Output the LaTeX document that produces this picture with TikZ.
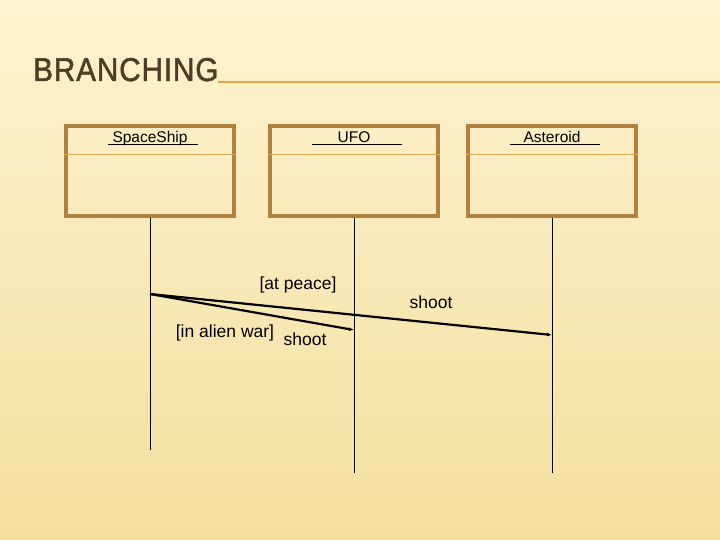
\documentclass[tikz,border=0pt]{standalone}
\usepackage{fontspec}
\setmainfont{Liberation Sans}
\newfontfamily\titlefont[FakeBold=1.5,LetterSpace=3]{Liberation Sans}
\usetikzlibrary{arrows.meta}
\definecolor{paper}{RGB}{253,243,208}
\definecolor{paperdark}{RGB}{244,223,158}
\definecolor{boxline}{RGB}{178,130,60}
\definecolor{sepline}{RGB}{214,170,80}
\definecolor{titlerule}{RGB}{226,164,70}
\definecolor{titletext}{RGB}{80,60,36}
\tikzset{
  classbox/.style={draw=boxline, line width=3.2pt},
  lifeline/.style={draw=black, line width=0.8pt},
  msg/.style={draw=black, line width=2.2pt, -{Latex[length=5pt,width=4pt]}},
  msgtext/.style={font=\fontsize{17.5}{20}\selectfont, inner sep=0pt}
}
\begin{document}
\begin{tikzpicture}[x=1pt,y=-1pt]
    \useasboundingbox (0,0) rectangle (720,540);
    \shade[top color=paper, bottom color=paperdark] (0,0) rectangle (720,540);
    % title
    \node [anchor=base west, inner sep=0pt, text=titletext, xscale=0.9,
           font=\titlefont\fontsize{33}{36}\selectfont] (title) at (33,81) {BRANCHING};
    \draw [titlerule, line width=2.2pt] (218,82) -- (720,82);
    % objects and their lifelines
    \foreach \x/\name/\lbl/\bottom in {150/ship/SpaceShip/450,
                                      354/ufo/UFO/473,
                                      552/rock/Asteroid/473} {
        \node [classbox, minimum width=168pt, minimum height=90pt, inner sep=0pt]
              (\name) at (\x,171) {};
        \draw [sepline, line width=0.9pt] ([yshift=-30pt]\name.north west) -- ([yshift=-30pt]\name.north east);
        \node [font=\fontsize{15.5}{17}\selectfont, inner sep=0pt, anchor=base]
              (\name-lbl) at (\x,143) {\lbl};
        \draw [line width=0.7pt] (\x-42,144.5) -- (\x+48,144.5);
        \coordinate (\name-end) at (\x,\bottom);
        \draw [lifeline] (\name.south) -- (\name-end);
    }
    % messages
    \coordinate (send) at (150,294);
    \coordinate (hitufo) at (354,330);
    \coordinate (hitrock) at (552,335);
    \draw [msg] (send) -- (hitufo);
    \draw [msg] (send) -- (hitrock);
    \node [msgtext] (peace) at (298,285) {[at peace]};
    \node [msgtext] (shoot1) at (431,302) {shoot};
    \node [msgtext] (war) at (225,333) {[in alien war]};
    \node [msgtext] (shoot2) at (305,339) {shoot};
\end{tikzpicture}
\end{document}
